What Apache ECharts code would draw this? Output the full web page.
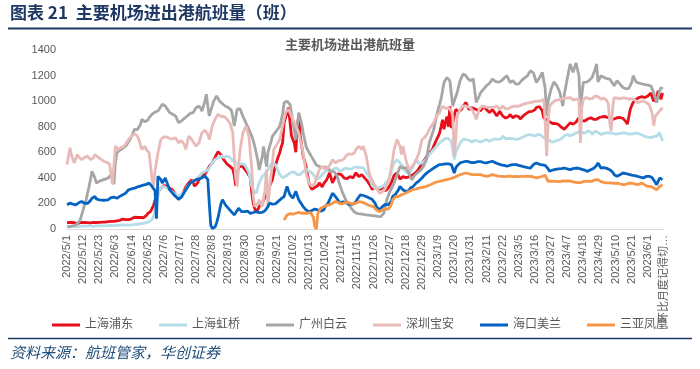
<!DOCTYPE html>
<html><head><meta charset="utf-8">
<script src="https://cdn.jsdelivr.net/npm/echarts@6/dist/echarts.min.js"></script>
<style>html,body{margin:0;padding:0;background:#fff}#c{width:700px;height:369px}</style>
</head><body><div id="c"></div>
<script>
// ---- data ----
const seriesNames = ['上海浦东','上海虹桥','广州白云','深圳宝安','海口美兰','三亚凤凰'];
const firstDay = [2022, 5, 1];
const dayCount = 407;
const lastCategory = '环比月度记得切…';
const yTicks = [0, 200, 400, 600, 800, 1000, 1200, 1400];
const categories = [];
for (let i = 0; i < dayCount; i++) {
  const d = new Date(firstDay[0], firstDay[1] - 1, firstDay[2] + i);
  categories.push(d.getFullYear() + '/' + (d.getMonth() + 1) + '/' + d.getDate());
}
categories.push(lastCategory);

const pudong = [
50,48,52,47,51,49,46,50,45,48,51,
49,52,48,50,53,47,50,52,49,51,54,
52,55,53,56,54,57,58,55,59,56,60,
62,64,65,68,72,78,80,74,71,73,76,
80,86,92,95,90,88,91,85,88,96,104,
120,128,138,150,185,225,262,290,305,318,330,
340,345,336,328,320,312,305,288,270,250,230,
245,262,280,305,330,345,360,372,385,360,335,
335,360,385,405,425,432,428,440,465,490,505,
515,538,560,585,605,592,580,560,540,525,510,
500,490,482,470,420,340,430,480,492,500,485,
470,455,440,420,400,280,200,160,130,150,175,
188,200,225,250,280,305,330,360,385,440,490,
530,565,595,640,675,830,870,910,950,840,730,
700,670,600,800,885,730,650,570,530,490,420,
360,330,310,318,325,320,340,360,345,330,355,
370,385,410,440,400,360,385,410,425,432,440,
425,410,398,385,395,402,410,405,400,420,440,
425,410,418,425,410,398,385,372,360,335,310,
318,325,330,315,300,312,330,315,300,310,320,
338,360,390,420,432,440,415,390,400,410,405,
402,400,408,414,420,428,435,440,455,470,492,
515,530,545,560,578,595,610,620,648,675,700,
725,750,800,855,780,835,880,800,960,790,830,
885,935,925,918,910,935,960,975,990,962,935,
942,948,950,940,930,928,926,925,942,960,948,
935,922,910,922,935,918,902,885,902,920,905,
885,876,868,860,878,895,882,870,878,886,895,
878,860,872,885,893,902,910,918,925,920,915,
932,950,955,958,960,925,870,862,855,848,840,
830,825,820,825,830,818,805,796,788,780,792,
805,818,830,825,820,828,836,845,870,858,845,
842,845,852,860,865,870,862,858,855,858,860,
872,885,878,885,880,875,870,866,862,860,860,
865,870,868,872,870,865,860,840,820,830,935,
965,990,1002,1015,1022,1028,1030,1035,1040,1028,1015,
1040,1052,1065,1030,1000,1015,1030,1080,1045,1015,1065
];

const hongqiao = [
18,20,17,19,22,20,18,21,19,22,22,
21,23,20,24,22,25,23,21,24,25,23,
24,26,25,27,24,28,26,27,29,28,27,
29,28,30,31,29,32,30,31,33,30,34,
33,36,35,38,37,40,42,45,43,47,50,
54,58,62,75,97,140,200,255,305,320,333,
333,328,320,312,307,298,290,280,272,262,254,
260,268,280,295,310,333,345,356,365,375,381,
386,398,410,425,438,444,450,458,462,470,495,
517,530,545,550,556,562,570,566,560,565,570,
570,560,545,535,526,517,512,508,504,510,517,
505,491,465,438,385,333,305,290,280,320,360,
385,410,422,430,438,465,491,505,517,510,504,
478,452,425,412,400,406,412,420,430,438,444,
451,445,438,425,412,425,438,450,464,470,458,
451,446,440,438,410,386,392,399,412,425,438,
450,464,458,451,458,464,470,474,477,465,451,
458,464,470,477,472,468,464,470,477,484,491,
484,477,480,484,480,460,438,425,412,375,340,
333,320,307,320,333,328,320,340,359,372,380,
386,440,491,518,530,543,530,517,504,491,465,
450,438,442,450,470,491,515,543,528,510,514,
517,530,536,543,565,580,596,610,622,635,648,
660,674,686,692,700,708,714,706,700,688,674,
543,600,622,648,674,688,700,702,700,700,694,
685,680,687,694,700,688,674,680,684,690,695,
700,692,685,692,698,700,706,714,700,687,706,
727,712,705,700,708,714,708,705,705,702,700,
705,710,715,720,727,732,735,738,740,735,731,
728,727,740,753,735,725,714,708,704,700,692,
684,678,674,688,700,694,687,705,718,727,734,
740,735,730,734,738,745,750,753,760,766,756,
745,750,753,765,779,760,740,752,766,760,755,
748,740,744,748,750,752,750,752,753,748,745,
742,740,745,748,750,752,753,750,746,744,742,
740,745,748,750,753,745,740,735,727,724,720,
718,716,714,718,722,725,727,740,753,720,687
];

const baiyun = [
18,19,20,22,24,28,31,40,55,71,110,
150,190,228,280,330,386,451,438,400,359,365,
373,378,382,386,390,394,399,410,425,438,350,
520,596,610,616,622,630,640,648,665,682,700,
725,752,779,780,778,779,815,858,850,840,832,
850,871,885,898,910,915,920,923,940,958,976,
970,962,945,928,910,904,897,890,884,858,832,
832,845,858,865,871,884,897,904,908,910,930,
949,955,962,945,923,960,1000,1054,960,884,925,
962,1000,1020,1040,1020,1000,990,980,970,960,955,
950,940,930,880,805,870,937,940,940,910,880,
855,829,805,780,752,725,690,646,594,541,462,
462,560,646,567,488,600,640,680,725,740,755,
770,786,803,850,900,987,994,1000,988,975,910,
843,770,700,805,910,865,820,752,700,646,620,
600,580,560,541,520,500,494,488,484,482,480,
484,488,474,460,448,436,449,462,420,380,345,
312,280,255,230,210,190,175,160,145,133,122,
120,119,118,116,114,112,110,109,108,107,105,
104,102,100,99,98,97,110,124,176,228,260,
290,312,333,362,392,420,455,490,482,475,478,
480,460,440,412,385,402,420,430,440,452,458,
464,490,515,543,610,674,710,745,779,832,885,
936,975,1015,1080,1146,1166,1186,1173,1160,1060,962,
1000,1034,1067,1115,1160,1186,1212,1205,1199,1180,1170,
1160,1166,1173,1080,989,1015,1040,1067,1080,1094,1107,
1120,1130,1140,1156,1173,1162,1155,1150,1148,1146,1158,
1170,1180,1190,1199,1172,1146,1153,1160,1147,1133,1120,
1135,1150,1162,1173,1182,1191,1200,1220,1238,1228,1220,
1183,1146,1163,1180,1203,1225,1225,1100,884,1000,1047,
1094,1122,1150,1135,1120,1094,1067,1015,962,1050,1110,
1173,1232,1291,1258,1225,1262,1300,1304,1200,938,1050,
1146,1148,1148,1150,1162,1173,1186,1199,1245,1291,1150,
1175,1199,1192,1186,1180,1177,1175,1173,1155,1138,1120,
1140,1160,1147,1133,1120,1107,1094,1097,1100,1100,1094,
1146,1199,1175,1150,1145,1140,1138,1135,1133,1130,1128,
1125,1122,1120,1094,1067,1028,989,1035,1080,1107,1094
];

const baoan = [
504,570,635,580,548,517,550,583,563,553,543,
552,560,565,570,556,543,530,556,583,570,563,
556,547,538,530,526,522,517,508,500,350,500,
648,635,622,630,638,643,648,665,683,700,714,
727,736,745,753,727,700,661,622,635,648,622,
609,596,491,386,340,450,523,596,648,700,714,
720,727,720,713,707,700,705,710,714,694,674,
683,691,700,661,622,675,727,714,700,683,666,
648,661,674,714,753,766,772,779,740,700,753,
806,833,860,879,897,888,880,880,880,870,860,
845,830,792,753,570,400,333,500,622,688,753,
780,806,766,727,595,464,254,175,175,200,228,
200,175,238,300,464,175,300,412,517,622,641,
660,680,700,753,806,858,910,924,937,910,884,
857,830,806,780,753,700,648,596,517,438,398,
359,346,333,346,359,394,429,464,477,490,477,
470,464,477,490,516,543,530,517,526,535,543,
536,530,550,570,579,587,596,583,570,596,622,
635,648,635,622,648,609,570,504,438,409,380,
360,340,320,300,280,285,290,304,318,333,372,
412,478,543,622,660,700,674,648,583,648,596,
543,504,464,474,484,491,516,540,568,596,648,
700,709,718,727,753,779,797,815,832,858,884,
897,910,936,962,949,942,936,949,962,923,884,
570,700,884,910,936,949,962,962,962,956,953,
950,936,923,890,858,897,936,949,962,958,955,
949,952,955,952,949,953,958,962,949,936,949,
962,949,940,936,942,949,955,962,961,961,960,
960,965,970,975,978,982,985,987,989,992,995,
998,1002,1001,1000,1000,1007,1015,832,570,832,962,
975,989,998,1007,1015,1010,1005,1016,1028,1024,1020,
1023,1026,1028,1019,1010,1012,1013,1015,1020,674,950,
1015,1022,1028,1022,1018,1015,1020,1025,1040,1054,1035,
1025,1015,1020,1024,1028,1004,980,832,766,950,1028,
1026,1024,1022,1020,1023,1026,1028,1024,1020,1015,1017,
1019,1020,1010,1000,989,992,996,999,1002,995,988,
980,971,962,900,806,880,895,910,923,936,949
];

const meilan = [
189,195,202,198,195,192,189,197,205,210,215,
208,200,204,200,202,222,241,248,254,235,232,
228,226,225,224,225,226,228,236,245,254,250,
245,241,248,255,262,268,274,280,294,307,310,
314,316,320,325,329,333,336,339,343,346,349,
352,359,346,333,316,300,80,412,412,386,359,
379,399,368,338,307,294,280,267,254,241,235,
228,248,268,288,307,325,342,359,366,372,379,
386,389,392,396,399,408,416,425,386,200,30,
5,8,15,50,90,145,200,228,209,189,175,
162,149,136,123,110,127,145,162,149,136,123,
136,149,140,132,123,126,129,132,136,132,128,
123,130,136,143,149,175,202,198,194,189,197,
205,216,228,237,245,254,294,333,300,268,255,
241,268,294,261,228,210,193,175,162,149,142,
136,140,145,149,156,162,149,136,140,145,149,
175,189,202,228,254,280,267,254,241,222,202,
208,212,215,208,201,195,189,192,195,198,202,
235,250,268,265,262,258,254,248,242,236,232,
228,202,175,162,149,162,175,184,193,202,188,
175,215,254,263,272,280,307,333,320,307,300,
293,280,300,320,327,333,346,359,368,377,386,
399,412,425,438,445,451,460,468,477,484,491,
498,504,504,505,504,510,517,510,504,504,504,
438,477,495,508,517,520,524,527,530,528,525,
522,519,517,520,524,527,530,527,524,520,518,
517,520,524,527,530,525,519,514,509,504,502,
500,497,494,491,495,499,502,504,504,504,500,
497,494,491,488,485,482,480,477,477,490,504,
510,517,512,506,500,502,504,498,491,471,451,
458,461,464,466,468,470,470,472,475,477,474,
470,467,464,468,472,475,477,477,474,470,467,
464,460,455,451,458,464,470,474,477,497,517,
497,477,478,480,480,474,468,464,464,445,425,
418,412,418,425,432,438,438,434,430,428,425,
422,420,418,415,412,408,405,402,399,405,412,
410,412,412,400,386,366,346,372,399,392,386
];

const sanyaStartIndex = 148;
const sanyaValues = [
71,90,110,116,120,123,
116,110,123,136,130,123,123,123,123,125,123,
123,130,136,90,18,0,123,142,162,168,175,
180,185,187,189,195,202,208,215,210,206,202,
196,189,202,215,210,206,202,198,195,198,202,
208,215,212,210,206,202,196,190,185,180,178,
175,162,149,142,136,142,149,153,158,162,155,
149,188,228,241,254,254,254,261,268,272,276,
280,287,294,299,303,307,310,313,317,320,323,
325,328,330,333,338,343,348,354,359,364,368,
370,373,376,379,381,384,386,389,392,396,399,
404,409,414,420,425,428,432,435,438,435,432,
428,425,425,425,425,425,425,425,422,418,415,
412,415,418,422,425,422,419,416,414,412,412,
412,410,414,412,409,413,412,410,414,411,411,
410,408,412,410,411,413,412,410,412,410,407,
403,399,402,405,408,412,415,420,425,373,373,
375,371,373,376,372,374,370,373,376,372,374,
373,376,372,373,370,367,364,362,359,362,366,
370,373,375,372,373,376,373,371,385,399,386,
373,370,368,365,363,361,359,360,359,358,360,
359,357,356,353,350,348,346,350,354,357,359,
359,356,352,349,346,350,355,359,352,345,340,
333,333,333,326,320,313,307,320,333,340,346
];
const sanya = new Array(sanyaStartIndex).fill(null).concat(sanyaValues);

const colors = ['#E8101A', '#B4DDE8', '#A6A6A6', '#E8BAB8', '#0563C1', '#F79646'];
const allData = [pudong, hongqiao, baiyun, baoan, meilan, sanya];

// ---- chart ----
const chart = echarts.init(document.getElementById('c'), null, {renderer: 'canvas'});
const font = "'Liberation Sans', 'Noto Sans CJK SC', sans-serif";
const option = {
  animation: false,
  backgroundColor: '#fff',
  grid: {left: 67, right: 36, top: 50, bottom: 140, containLabel: false},
  xAxis: {
    type: 'category', data: categories, boundaryGap: false,
    axisLine: {show: true, lineStyle: {color: '#D9D9D9', width: 1}},
    axisTick: {show: false},
    axisLabel: {rotate: 90, interval: 10, color: '#595959', fontSize: 11, margin: 6, fontFamily: font}
  },
  yAxis: {
    type: 'value', min: yTicks[0], max: yTicks[yTicks.length - 1], interval: yTicks[1] - yTicks[0],
    axisLine: {show: false}, axisTick: {show: false}, splitLine: {show: false},
    axisLabel: {color: '#595959', fontSize: 11, margin: 11, fontFamily: font, formatter: v => String(v)}
  },
  legend: {
    data: seriesNames, top: 314, left: 47, icon: 'rect', itemWidth: 28, itemHeight: 3, itemGap: 26,
    textStyle: {color: '#595959', fontSize: 12, fontFamily: font}
  },
  series: seriesNames.map((n, i) => ({
    name: n, type: 'line', data: allData[i], showSymbol: false, symbol: 'none',
    color: colors[i], lineStyle: {color: colors[i], width: 2.8}, emphasis: {disabled: true}
  })),
  graphic: [
    {type: 'text', left: 10, top: 4, style: {text: '图表 21  主要机场进出港航班量（班）', fill: '#1F3864', font: "bold 17px 'Noto Sans CJK SC', sans-serif"}},
    {type: 'line', shape: {x1: 8, y1: 28.5, x2: 692, y2: 28.5}, style: {stroke: '#1F3864', lineWidth: 2}},
    {type: 'text', x: 350, y: 44, style: {text: '主要机场进出港航班量', fill: '#595959', font: "bold 13px 'Noto Sans CJK SC', sans-serif", textAlign: 'center', textVerticalAlign: 'middle'}},
    {type: 'line', shape: {x1: 8, y1: 338.5, x2: 692, y2: 338.5}, style: {stroke: '#1F3864', lineWidth: 1.5}},
    {type: 'text', x: 10, y: 352, style: {text: '资料来源：航班管家，华创证券', fill: '#1F4E79', font: "italic 15px 'Noto Sans CJK SC', sans-serif", textVerticalAlign: 'middle'}}
  ]
};
chart.setOption(option);
</script>
</body></html>
